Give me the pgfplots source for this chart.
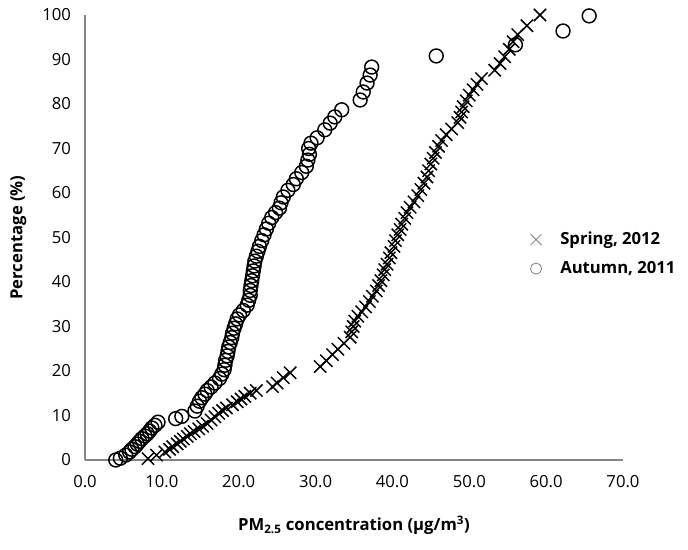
\documentclass[border=0pt]{standalone}
\usepackage{fontspec}
\setmainfont{Open Sans}
\usepackage{pgfplots}
\pgfplotsset{compat=1.18}
\usetikzlibrary{calc}
\definecolor{axisgray}{RGB}{134,134,134}

\pgfplotstableread{
x y
8.2 0.3
9.3 1.1
10.4 1.8
11.0 2.4
11.4 3.0
12.0 3.6
12.4 4.2
12.8 4.7
13.3 5.3
13.7 5.9
14.2 6.4
14.8 7.0
15.3 7.6
15.9 8.2
16.4 9.0
16.9 9.7
17.4 10.5
17.9 11.1
18.4 11.7
19.2 12.4
19.8 13.1
20.3 13.7
20.8 14.3
21.5 15.0
22.3 15.6
24.4 16.5
25.0 17.3
25.8 18.5
26.7 19.6
30.6 21.0
31.4 22.3
32.2 23.7
32.9 24.9
33.7 26.2
34.5 27.6
34.7 28.8
34.9 30.0
35.1 31.2
35.5 32.3
36.0 33.3
36.5 34.4
37.0 35.6
37.4 36.8
37.9 38.0
38.2 39.2
38.5 40.3
38.8 41.6
39.0 42.8
39.3 44.0
39.6 45.4
39.8 46.6
40.2 48.0
40.4 49.3
40.7 50.6
41.0 51.8
41.2 53.0
41.6 54.3
41.9 55.6
42.3 56.8
42.8 58.0
43.3 59.4
43.7 60.8
44.1 62.2
44.5 63.6
44.7 65.0
45.0 66.5
45.3 67.8
45.6 69.1
46.0 70.5
46.4 71.8
47.0 73.1
47.7 74.4
48.5 75.8
48.8 77.0
49.0 78.2
49.2 79.4
49.6 80.7
50.0 82.0
50.5 83.2
51.0 84.4
51.6 85.7
53.3 87.6
54.0 89.1
54.6 90.6
55.2 92.3
55.7 94.0
56.3 95.6
57.5 97.6
59.2 100.0
}\spring

\pgfplotstableread{
x y
4.0 0.0
4.6 0.4
5.3 1.1
5.8 1.8
6.1 2.4
6.5 3.0
6.8 3.6
7.1 4.2
7.4 4.8
7.8 5.4
8.1 5.9
8.4 6.5
8.7 7.2
9.1 7.8
9.5 8.5
11.8 9.3
12.6 9.8
14.3 11.0
14.6 12.1
14.9 13.2
15.2 14.0
15.6 14.8
15.9 15.6
16.4 16.4
16.9 17.3
17.5 18.3
17.8 19.3
18.1 20.3
18.2 21.3
18.3 22.4
18.5 23.4
18.6 24.4
18.7 25.4
18.9 26.4
19.1 27.5
19.2 28.5
19.4 29.6
19.6 30.6
19.8 31.7
20.1 32.6
20.6 33.6
21.1 34.8
21.3 35.9
21.5 37.0
21.5 38.1
21.6 39.2
21.7 40.3
21.8 41.4
21.9 42.5
22.0 43.6
22.1 44.7
22.3 45.8
22.5 46.9
22.7 48.0
23.0 49.3
23.3 50.6
23.6 51.9
23.9 53.2
24.3 54.5
24.8 55.6
25.3 56.6
25.5 57.8
25.8 59.1
26.4 60.6
27.1 61.9
27.5 63.2
28.2 64.6
28.8 66.0
29.0 67.4
29.2 68.7
29.1 70.0
29.4 71.2
30.2 72.4
31.2 74.2
31.9 75.7
32.5 77.1
33.4 78.7
35.8 80.9
36.2 82.7
36.7 84.7
37.1 86.5
37.3 88.3
45.7 90.8
56.0 93.3
62.2 96.4
65.6 99.8
}\autumn

\begin{document}
\begin{tikzpicture}
\begin{axis}[
    width=403.5pt, height=333.75pt, scale only axis,
    xmin=0, xmax=70, ymin=0, ymax=100,
    xtick distance=10, ytick distance=10,
    axis x line=bottom, axis y line=left,
    axis line style={-, axisgray, line width=0.8pt},
    major tick length=0pt,
    font=\fontsize{12.5}{15}\selectfont,
    /pgf/number format/assume math mode=true,
    xticklabel={\pgfmathprintnumber[fixed, fixed zerofill, precision=1]{\tick}},
    yticklabel style={xshift=-7pt},
    xticklabel style={yshift=-8pt},
    xlabel={\bfseries PM\textsubscript{2.5} concentration (µg/m\textsuperscript{3})},
    ylabel={\bfseries Percentage (\%)},
    x label style={at={(axis description cs:0.5,-0.146)}, anchor=center},
    y label style={at={(axis description cs:-0.124,0.5)}, anchor=center},
    clip=false,
    legend style={at={(axis description cs:0.82,0.463)}, anchor=west, draw=none,
        font=\fontsize{12.5}{15}\selectfont\bfseries, row sep=7pt,
        /tikz/every odd column/.append style={column sep=12pt}},
    legend cell align=left,
    legend image code/.code={\draw[#1] plot coordinates {(0.15cm,0cm)};},
]
\addplot[only marks, mark=x, mark size=6.5pt, line width=1.1pt, black,
    legend image post style={gray, line width=0.6pt, mark size=5.8pt}] table {\spring};
\addlegendentry{Spring, 2012}
\addplot[only marks, mark=o, mark size=5.2pt, line width=1.1pt, black,
    legend image post style={gray, line width=0.6pt, mark size=4.2pt}] table {\autumn};
\addlegendentry{Autumn, 2011}
\end{axis}
\pgfresetboundingbox
\path ($(current axis.south west)+(-63.75pt,-66.75pt)$) rectangle ($(current axis.south west)+(452.25pt,345pt)$);
\end{tikzpicture}
\end{document}
